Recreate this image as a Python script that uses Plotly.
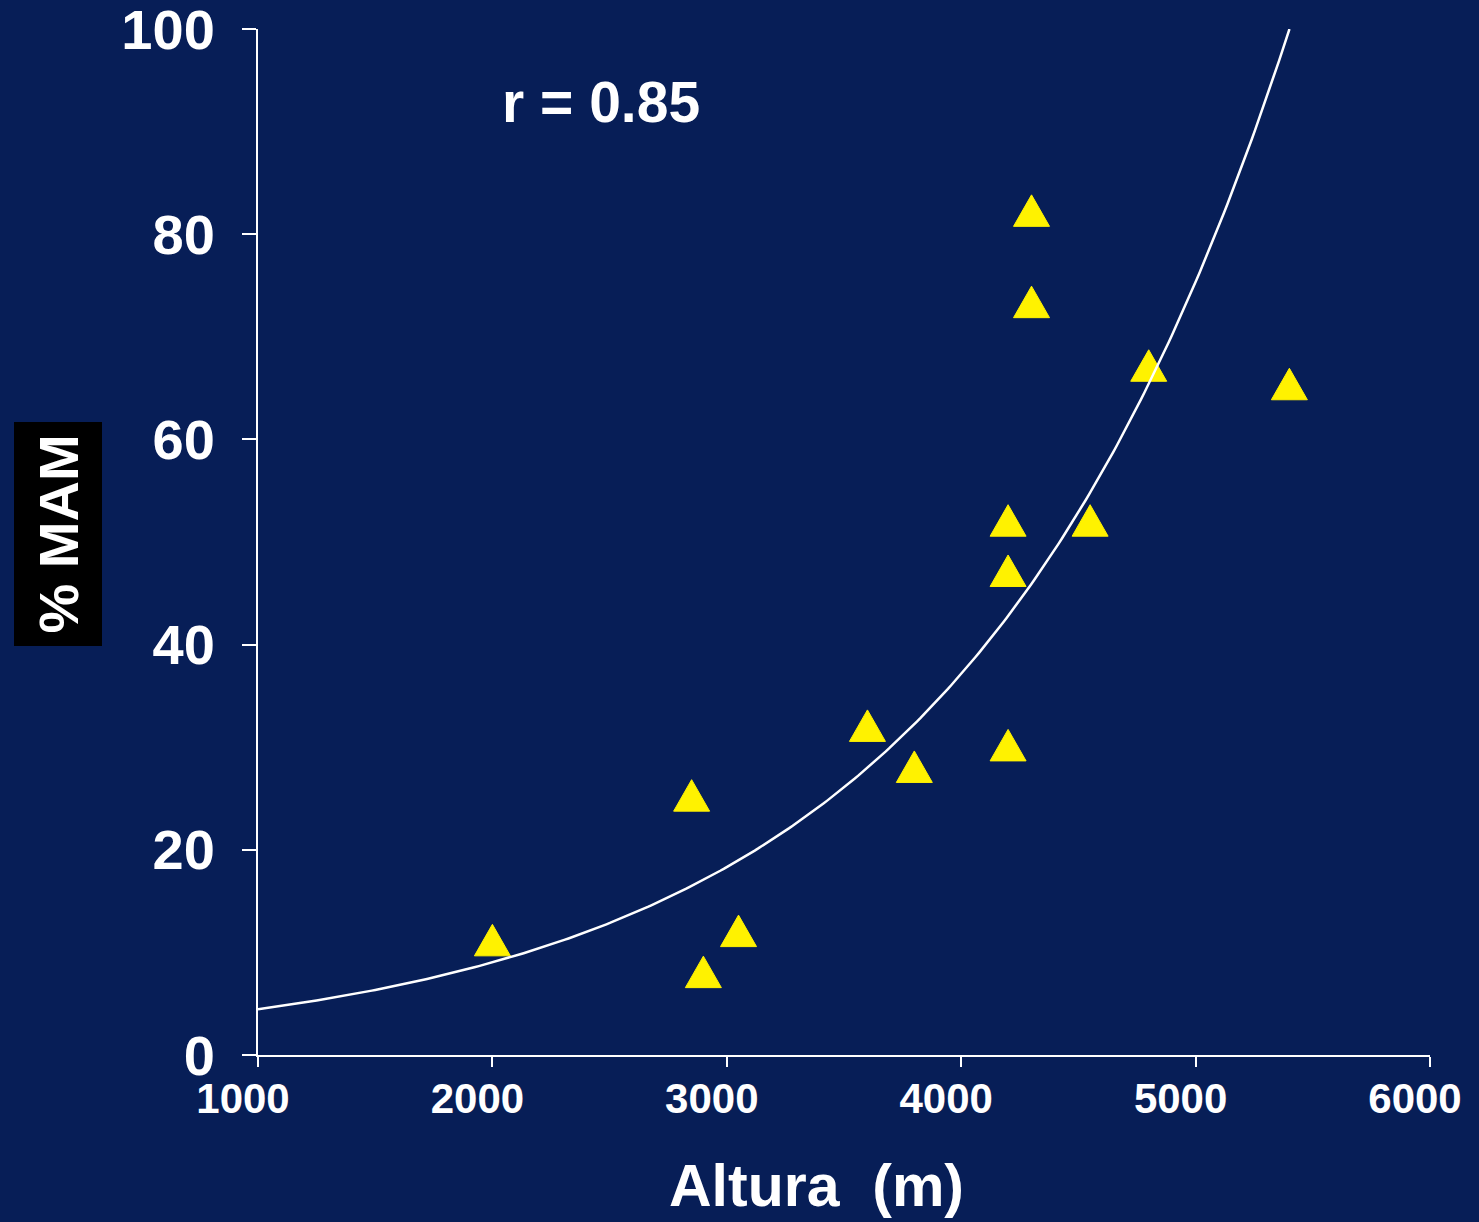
import numpy as np
import plotly.graph_objects as go

# Altitude (m) and % MAM for each site
altura_m = [2000, 2850, 2900, 3050, 3600, 3800, 4200, 4200, 4200, 4300, 4300, 4550, 4800, 5400]
mam_pct = [11.2, 25.3, 8.1, 12.1, 32.1, 28.1, 30.2, 47.2, 52.1, 73.4, 82.3, 52.1, 67.2, 65.4]

x_ticks = [1000, 2000, 3000, 4000, 5000, 6000]
y_ticks = [0, 20, 40, 60, 80, 100]

r_label = "r = 0.85"
x_title = "Altura\u00a0 (m)"
y_title = "% MAM"

BG = "#071e57"
YELLOW = "#fff200"
WHITE = "#ffffff"
FONT = "Liberation Sans"

W, H = 1479, 1222
AX_LEFT, AX_RIGHT, AX_TOP, AX_BOTTOM = 258, 1430, 29, 1055   # axis box in px
LABEL_SHIFT = 15                                               # x labels sit left of ticks
M_L = AX_LEFT - 20
M_R = W - AX_RIGHT
M_T = AX_TOP
M_B = H - AX_BOTTOM
X_RANGE = [1000, 6000]
Y_RANGE = [0, 100]

area_w = W - M_L - M_R
area_h = H - M_T - M_B


def paper_x(px):
    return (px - M_L) / area_w


def paper_y(py):
    return (H - M_B - py) / area_h


px_x = (X_RANGE[1] - X_RANGE[0]) / (AX_RIGHT - AX_LEFT)
px_y = (Y_RANGE[1] - Y_RANGE[0]) / (AX_BOTTOM - AX_TOP)

# Exponential trend line: least squares fit of ln(y) against x
b, ln_a = np.polyfit(altura_m, np.log(mam_pct), 1)
x_end = (np.log(Y_RANGE[1]) - ln_a) / b
fit_x = np.linspace(X_RANGE[0], x_end, 300)
fit_y = np.exp(ln_a + b * fit_x)

# Equilateral-looking triangle markers (sizes in data units for this plot area)
tri_half_w = 18 * px_x
tri_h = 31.5 * px_y
tri_x, tri_y = [], []
for xv, yv in zip(altura_m, mam_pct):
    tri_x += [xv - tri_half_w, xv + tri_half_w, xv, xv - tri_half_w, None]
    tri_y += [yv - tri_h / 2, yv - tri_h / 2, yv + tri_h / 2, yv - tri_h / 2, None]

fig = go.Figure()
fig.add_trace(go.Scatter(
    x=tri_x, y=tri_y, mode="lines", fill="toself",
    fillcolor=YELLOW, line=dict(color=YELLOW, width=1),
    hoverinfo="skip", showlegend=False,
))
fig.add_trace(go.Scatter(
    x=fit_x, y=fit_y, mode="lines",
    line=dict(color=WHITE, width=2.5),
    hoverinfo="skip", showlegend=False,
))
# empty trace that carries the x tick-label axis
fig.add_trace(go.Scatter(x=[], y=[], xaxis="x2", yaxis="y",
                         showlegend=False, hoverinfo="skip"))

axis_common = dict(
    showgrid=False, zeroline=False, showline=True,
    linecolor=WHITE, linewidth=2,
    ticks="outside", tickcolor=WHITE, tickwidth=2,
    automargin=False,
)
fig.update_layout(
    xaxis=dict(
        domain=[paper_x(AX_LEFT), paper_x(AX_RIGHT)], anchor="y",
        range=X_RANGE, tickvals=x_ticks, ticklen=10,
        showticklabels=False, **axis_common,
    ),
    xaxis2=dict(
        domain=[paper_x(AX_LEFT - LABEL_SHIFT), paper_x(AX_RIGHT - LABEL_SHIFT)],
        anchor="y", range=X_RANGE,
        tickvals=x_ticks, ticktext=[str(v) for v in x_ticks],
        showgrid=False, zeroline=False, showline=False,
        ticks="outside", ticklen=10, tickcolor="rgba(0,0,0,0)",
        ticklabelstandoff=-3, ticklabeloverflow="allow", automargin=False,
        tickfont=dict(family=FONT, size=42, color=WHITE, weight="bold"),
    ),
    yaxis=dict(
        domain=[0, 1], anchor="x",
        range=Y_RANGE, tickvals=y_ticks, ticktext=[str(v) for v in y_ticks],
        ticklen=14, ticklabelstandoff=16, ticklabeloverflow="allow",
        tickfont=dict(family=FONT, size=56, color=WHITE, weight="bold"),
        **axis_common,
    ),
)

fig.add_annotation(
    text=r_label, xref="paper", yref="paper",
    x=paper_x(500), y=paper_y(102),
    xanchor="left", yanchor="middle", showarrow=False,
    font=dict(family=FONT, size=57, color=WHITE, weight="bold"),
)
fig.add_annotation(
    text=x_title, xref="paper", yref="paper",
    x=paper_x(816), y=paper_y(1186),
    xanchor="center", yanchor="middle", showarrow=False,
    font=dict(family=FONT, size=59, color=WHITE, weight="bold"),
)
fig.add_annotation(
    text=y_title, xref="paper", yref="paper",
    x=paper_x(57.5), y=paper_y(534),
    xanchor="center", yanchor="middle", showarrow=False, textangle=-90,
    bgcolor="#000000", borderpad=12,
    font=dict(family=FONT, size=56, color=WHITE, weight="bold"),
)

fig.update_layout(
    width=W, height=H, autosize=False,
    margin=dict(l=M_L, r=M_R, t=M_T, b=M_B, pad=0, autoexpand=False),
    paper_bgcolor=BG, plot_bgcolor="rgba(0,0,0,0)",
    showlegend=False,
)

fig.write_html("out.html")
